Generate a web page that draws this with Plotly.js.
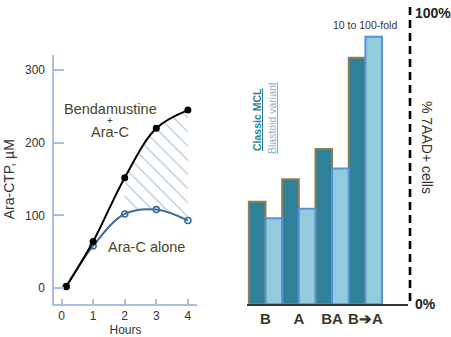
<!DOCTYPE html>
<html><head><meta charset="utf-8">
<script src="https://cdn.plot.ly/plotly-3.0.1.min.js"></script>
<style>html,body{margin:0;padding:0;background:#fff}#chart{width:451px;height:337px}</style>
</head><body><div id="chart"></div>
<script>
// Left panel: Ara-CTP over time
var hours = [0.15, 1, 2, 3, 4];
var hourTicks = [0, 1, 2, 3, 4];
var combo = [2, 64, 152, 220, 245];     // Bendamustine + Ara-C
var alone = [2, 58, 102, 108, 93];      // Ara-C alone
var yTicks = [0, 100, 200, 300];

// Right panel: % 7AAD+ cells
var groups = ['B', 'A', 'BA', 'B\u2794A'];
var classicMCL = [35.2, 42.9, 53.3, 84.6];
var blastoid = [29.5, 32.8, 46.6, 91.8];

var W = 451, H = 337;
function px(x){return x / W;}
function py(y){return 1 - y / H;}
var FONT = '"Liberation Sans", Arial, sans-serif';
var AX = '#a9bfdf';
var yRange = [-21.3, 320.9];

var traces = [
  {x: hours.slice(2), y: alone.slice(2), xaxis: 'x', yaxis: 'y', mode: 'lines',
   line: {shape: 'spline', width: 0, color: 'rgba(0,0,0,0)'}, hoverinfo: 'skip', showlegend: false},
  {x: hours.slice(2), y: combo.slice(2), xaxis: 'x', yaxis: 'y', mode: 'lines',
   line: {shape: 'spline', width: 0, color: 'rgba(0,0,0,0)'}, fill: 'tonexty',
   fillcolor: 'rgba(0,0,0,0)',
   fillpattern: {shape: '\\', fgcolor: '#9fb6da', bgcolor: 'rgba(0,0,0,0)', size: 10, solidity: 0.1},
   hoverinfo: 'skip', showlegend: false},
  {x: hours, y: alone, xaxis: 'x', yaxis: 'y', mode: 'lines+markers', name: 'Ara-C alone',
   line: {shape: 'spline', width: 2, color: '#3e6c9c'},
   marker: {symbol: 'circle-open', size: 6, color: '#3e6c9c', line: {width: 1.6}}, showlegend: false},
  {x: hours, y: combo, xaxis: 'x', yaxis: 'y', mode: 'lines+markers', name: 'Bendamustine + Ara-C',
   line: {shape: 'spline', width: 2, color: '#000'},
   marker: {symbol: 'circle', size: 7, color: '#000'}, showlegend: false},
  // carrier for the offset tick-label axis (invisible)
  {x: hours, y: combo, xaxis: 'x', yaxis: 'y3', mode: 'markers',
   marker: {size: 1, color: 'rgba(0,0,0,0)'}, hoverinfo: 'skip', showlegend: false},
  {x: [0,1,2,3], y: classicMCL, xaxis: 'x2', yaxis: 'y2', type: 'bar', name: 'Classic MCL',
   marker: {color: '#2f8199', line: {color: '#8c7f52', width: 2}}, showlegend: false},
  {x: [0,1,2,3], y: blastoid, xaxis: 'x2', yaxis: 'y2', type: 'bar', name: 'Blastoid variant',
   marker: {color: '#93cbde', line: {color: '#5a90da', width: 2}}, showlegend: false}
];

var layout = {
  width: W, height: H, margin: {l: 0, r: 0, t: 0, b: 0},
  paper_bgcolor: '#fff', plot_bgcolor: 'rgba(0,0,0,0)',
  font: {family: FONT, color: '#333'},
  barmode: 'group', bargap: 0, bargroupgap: 0,
  xaxis: {domain: [px(54.3), px(196.7)], range: [-0.228, 4.278], anchor: 'y',
    showgrid: false, zeroline: false, showline: true, linecolor: AX, linewidth: 2,
    ticks: 'inside', ticklen: 5, tickcolor: AX, tickwidth: 2,
    tickvals: hourTicks, tickfont: {size: 12, color: '#333'},
    title: {text: 'Hours', font: {size: 12, color: '#333'}, standoff: 3}},
  yaxis: {domain: [py(303.5), py(55)], range: yRange, anchor: 'x',
    showgrid: false, zeroline: false, showline: true, linecolor: AX, linewidth: 2,
    ticks: 'inside', ticklen: 10, tickcolor: AX, tickwidth: 2,
    tickvals: yTicks, showticklabels: false},
  yaxis3: {domain: [py(303.5), py(55)], range: yRange, overlaying: 'y', anchor: 'free',
    position: px(45), side: 'left',
    showgrid: false, zeroline: false, showline: false, ticks: '',
    tickvals: yTicks, tickfont: {size: 12, color: '#333'},
    title: {text: 'Ara-CTP, \u00b5M', font: {size: 14, color: '#333'}, standoff: 6}},
  xaxis2: {domain: [px(246.7), px(408)], range: [-0.565, 4.28], anchor: 'y2',
    showgrid: false, zeroline: false, showline: true, linecolor: '#333', linewidth: 1.2,
    ticks: '', tickvals: [0,1,2,3], ticktext: groups,
    tickfont: {size: 15, color: '#3a3826', weight: 'bold'}},
  yaxis2: {domain: [py(304.3), py(7)], range: [0, 102], anchor: 'x2', side: 'right',
    showgrid: false, zeroline: false, showline: false, ticks: '',
    tickvals: [0, 100], ticktext: ['0%', '100%'], ticklabelstandoff: 6,
    tickfont: {size: 14, color: '#222', weight: 'bold'}},
  shapes: [
    {type: 'line', xref: 'paper', yref: 'paper', x0: px(410), x1: px(410), y0: py(7), y1: py(304),
     line: {color: '#000', width: 2.6, dash: '8px,5px'}}
  ],
  annotations: [
    {text: 'Bendamustine', x: px(110), y: py(109), xref: 'paper', yref: 'paper', showarrow: false,
     font: {size: 14.5, color: '#4a4528'}, xanchor: 'center', yanchor: 'middle', borderpad: 0},
    {text: '+', x: px(110), y: py(120), xref: 'paper', yref: 'paper', showarrow: false,
     font: {size: 10, color: '#4a4528'}, xanchor: 'center', yanchor: 'middle', borderpad: 0},
    {text: 'Ara-C', x: px(110), y: py(132), xref: 'paper', yref: 'paper', showarrow: false,
     font: {size: 14.5, color: '#4a4528'}, xanchor: 'center', yanchor: 'middle', borderpad: 0},
    {text: 'Ara-C alone', x: px(146), y: py(247), xref: 'paper', yref: 'paper', showarrow: false,
     font: {size: 14.5, color: '#4a4528'}, xanchor: 'center', yanchor: 'middle'},
    {text: '<u>Classic MCL</u>', x: px(257), y: py(120), xref: 'paper', yref: 'paper', showarrow: false,
     textangle: -90, font: {size: 10.5, color: '#2f7f93', weight: 'bold'}, xanchor: 'center', yanchor: 'middle'},
    {text: '<u>Blastoid variant</u>', x: px(272), y: py(118), xref: 'paper', yref: 'paper', showarrow: false,
     textangle: -90, font: {size: 10.5, color: '#8bb4c4'}, xanchor: 'center', yanchor: 'middle'},
    {text: '10 to 100-fold', x: px(365), y: py(25), xref: 'paper', yref: 'paper', showarrow: false,
     font: {size: 10.5, color: '#333'}, xanchor: 'center', yanchor: 'middle'},
    {text: '% 7AAD+ cells', x: px(427), y: py(147), xref: 'paper', yref: 'paper', showarrow: false,
     textangle: 90, font: {size: 14, color: '#333'}, xanchor: 'center', yanchor: 'middle'}
  ]
};

Plotly.newPlot('chart', traces, layout, {displayModeBar: false, staticPlot: true});
</script></body></html>
